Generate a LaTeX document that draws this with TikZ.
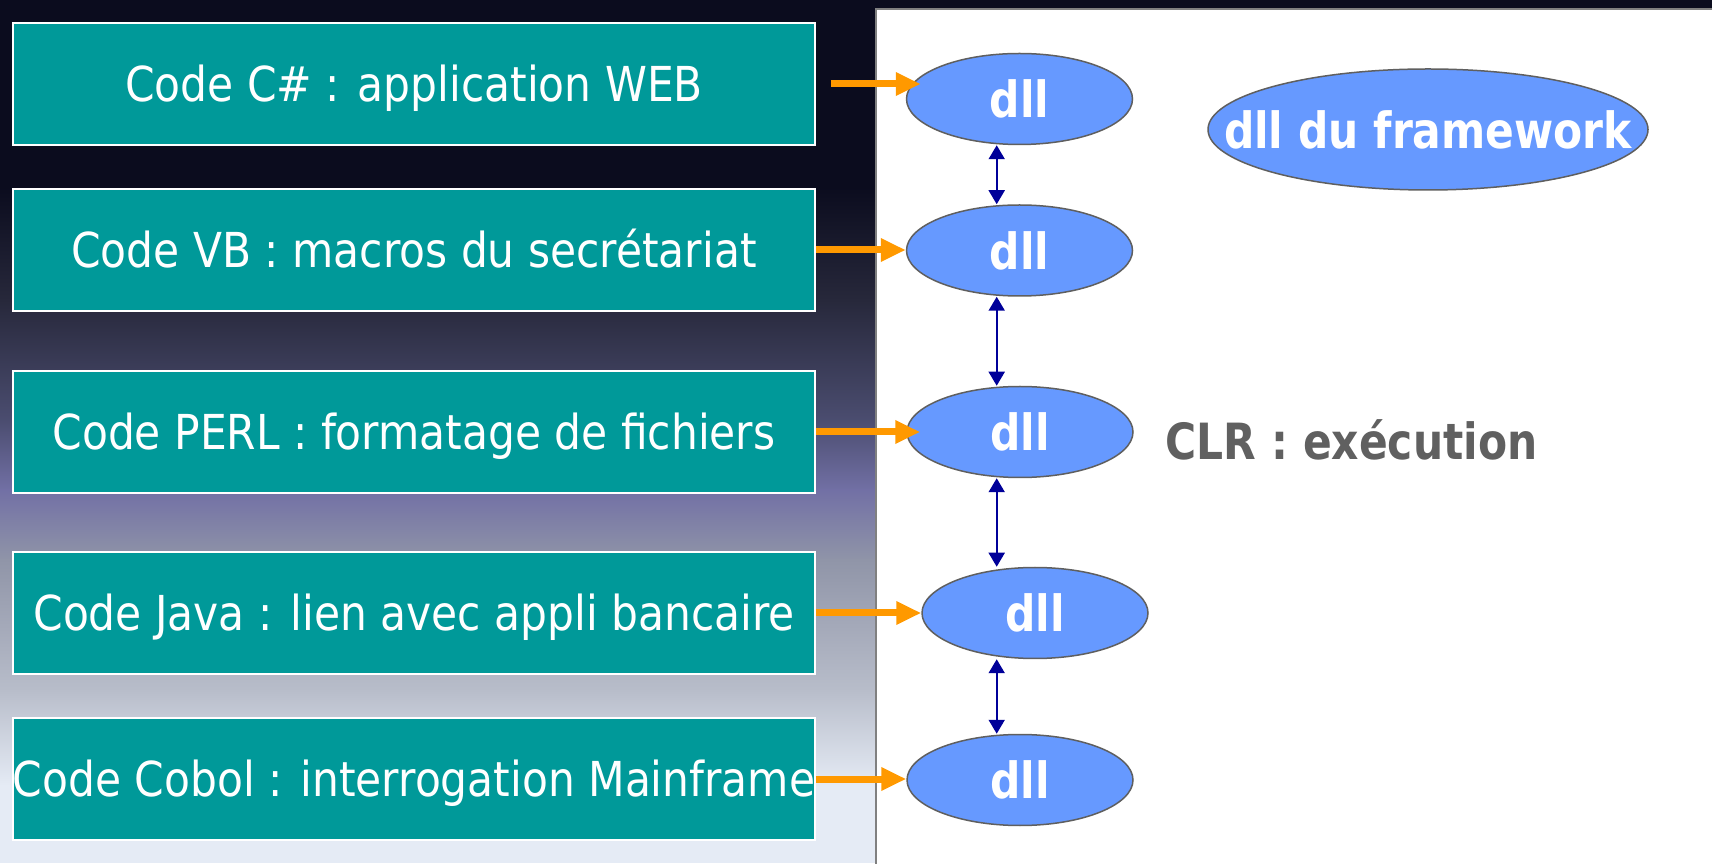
\documentclass[tikz,border=0pt]{standalone}
\usepackage{fontspec}
\setmainfont{DejaVu Sans}
\newfontfamily\boxfont{DejaVu Sans}[FakeStretch=0.88]
\newfontfamily\dllfont{DejaVu Sans}[FakeStretch=0.85]
\usetikzlibrary{shapes.geometric, arrows.meta}

\definecolor{bgdark}{HTML}{0B0C1E}
\definecolor{bgone}{HTML}{27283B}
\definecolor{bgtwo}{HTML}{4B4D70}
\definecolor{bgthree}{HTML}{7270A5}
\definecolor{bgfour}{HTML}{9095A8}
\definecolor{bgfive}{HTML}{B8BDCA}
\definecolor{bgsix}{HTML}{E5EBF5}
\definecolor{boxteal}{HTML}{009999}
\definecolor{dllblue}{HTML}{6699FF}
\definecolor{dllgrey}{HTML}{5F5F5F}
\definecolor{feedorange}{HTML}{FF9900}
\definecolor{linkblue}{HTML}{000099}
\definecolor{clrgrey}{HTML}{606060}
\definecolor{panelgrey}{HTML}{808080}

\tikzset{
	codebox/.style={draw=white, line width=0.015cm, fill=boxteal, minimum width=8.02cm, minimum height=1.22cm, inner sep=0, text=white, text height=10pt, text depth=0pt, font=\boxfont\fontsize{13.7pt}{16pt}\selectfont},
	dllnode/.style={ellipse, draw=dllgrey, line width=0.015cm, fill=dllblue, minimum width=2.26cm, minimum height=0.91cm, inner sep=0, text=white, text height=10.8pt, text depth=0pt, font=\dllfont\bfseries\fontsize{14.2pt}{17pt}\selectfont},
	feed/.style={draw=feedorange, line width=0.07cm, -{Triangle[length=0.25cm,width=0.22cm]}},
	link/.style={draw=linkblue, line width=0.02cm, {Triangle[length=0.14cm,width=0.16cm]}-{Triangle[length=0.14cm,width=0.16cm]}}
}

\begin{document}
\begin{tikzpicture}
	\useasboundingbox (0,0) rectangle (17.12,8.63);
	% background
	\fill[bgdark] (0,0) rectangle (17.12,8.63);
	\shade[top color=bgdark, bottom color=bgone] (0,5.62) rectangle (8.8,6.76);
	\shade[top color=bgone, bottom color=bgtwo] (0,4.42) rectangle (8.8,5.63);
	\shade[top color=bgtwo, bottom color=bgthree] (0,3.72) rectangle (8.8,4.43);
	\shade[top color=bgthree, bottom color=bgfour] (0,3.02) rectangle (8.8,3.73);
	\shade[top color=bgfour, bottom color=bgfive] (0,1.72) rectangle (8.8,3.03);
	\shade[top color=bgfive, bottom color=bgsix] (0,0.77) rectangle (8.8,1.73);
	\fill[bgsix] (0,0) rectangle (8.8,0.78);
	\draw[panelgrey, line width=0.025cm, fill=white] (8.76,-0.2) rectangle (17.4,8.54);

	% code boxes
	\node[codebox] (b1) at (4.14,7.79) {Code C\# : application WEB};
	\node[codebox] (b2) at (4.14,6.13) {Code VB : macros du secrétariat};
	\node[codebox] (b3) at (4.14,4.31) {Code PERL : formatage de fichiers};
	\node[codebox] (b4) at (4.14,2.50) {Code Java : lien avec appli bancaire};
	\node[codebox] (b5) at (4.14,0.84) {Code Cobol : interrogation Mainframe};

	% dlls
	\node[dllnode] (e1) at (10.195,7.64) {dll};
	\node[dllnode] (e2) at (10.195,6.125) {dll};
	\node[dllnode] (e3) at (10.20,4.31) {dll};
	\node[dllnode] (e4) at (10.35,2.50) {dll};
	\node[dllnode] (e5) at (10.20,0.83) {dll};
	\node[dllnode, minimum width=4.40cm, minimum height=1.21cm] (fw) at (14.28,7.335) {\makebox[0pt][c]{dll du framework}};
	\node[anchor=base west, inner sep=0, text=clrgrey, font=\dllfont\bfseries\fontsize{14.2pt}{17pt}\selectfont] (clr) at (11.65,4.03) {CLR : exécution};

	% arrows
	\draw[feed] ([xshift=1.5mm]b1.east) -- ([xshift=1.5mm]b1.east -| e1.west);
	\draw[feed] (b2.east) -- (b2.east -| e2.west);
	\draw[feed] (b3.east) -- ([xshift=1.4mm]b3.east -| e3.west);
	\draw[feed] (b4.east) -- (b4.east -| e4.west);
	\draw[feed] (b5.east) -- (b5.east -| e5.west);

	\coordinate (ax) at (9.967,0);
	\draw[link] (e1.south -| ax) -- (e2.north -| ax);
	\draw[link] (e2.south -| ax) -- (e3.north -| ax);
	\draw[link] (e3.south -| ax) -- (e4.north -| ax);
	\draw[link] (e4.south -| ax) -- (e5.north -| ax);
\end{tikzpicture}
\end{document}
